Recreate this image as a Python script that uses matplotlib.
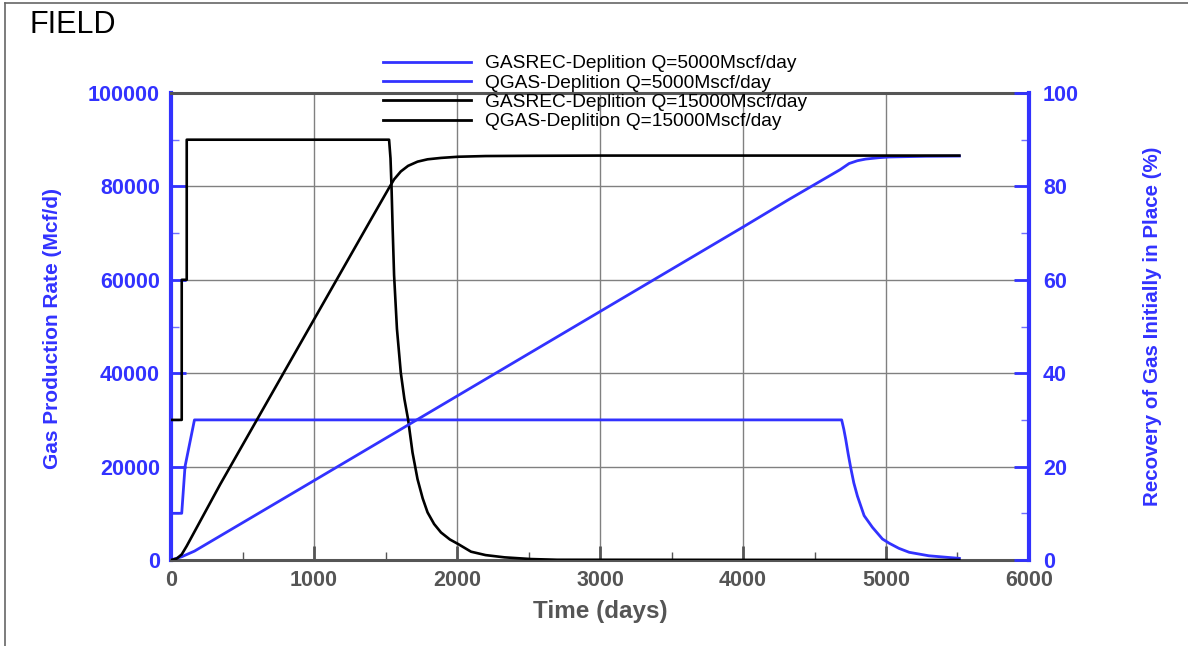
import matplotlib
matplotlib.use('Agg')
import matplotlib.pyplot as plt
from matplotlib.lines import Line2D
from matplotlib.ticker import MultipleLocator

BLUE = '#3232ff'
GRAY = '#555555'

# QGAS, Q=5000 Mscf/day case (Mcf/d)
qgas_5000_days = [0, 75, 98, 164, 4690, 4705, 4718, 4735, 4753, 4775, 4800, 4847, 4905, 4975, 5022, 5090, 5162, 5300, 5513]
qgas_5000_rate = [10000, 10000, 20000, 30000, 30000, 28000, 25900, 22800, 19800, 16500, 13700, 9500, 7000, 4500, 3600, 2500, 1650, 900, 350]

# GASREC, Q=5000 Mscf/day case (%)
gasrec_5000_days = [0, 75, 164, 1000, 2000, 3000, 4000, 4321, 4680, 4742, 4800, 4858, 4950, 5022, 5277, 5513]
gasrec_5000_pct = [0, 0.7, 1.9, 17.0, 35.1, 53.2, 71.3, 77.2, 83.6, 84.9, 85.5, 85.85, 86.15, 86.3, 86.45, 86.5]

# QGAS, Q=15000 Mscf/day case (Mcf/d)
qgas_15000_days = [0, 75, 75, 110, 110, 1525, 1535, 1542, 1550, 1560, 1580, 1607, 1632, 1658, 1689, 1724, 1760, 1794, 1840, 1888, 1950, 2009, 2098, 2200, 2332, 2519, 2700, 5513]
qgas_15000_rate = [30000, 30000, 60000, 60000, 90000, 90000, 86000, 80000, 71000, 61000, 49500, 40100, 34500, 30100, 23000, 17300, 13200, 10200, 7700, 5900, 4400, 3400, 1780, 1050, 570, 200, 50, 0]

# GASREC, Q=15000 Mscf/day case (%)
gasrec_15000_days = [0, 40, 75, 110, 344, 1000, 1396, 1525, 1560, 1607, 1658, 1724, 1794, 1888, 2009, 2200, 2500, 3000, 5513]
gasrec_15000_pct = [0, 0.3, 1.2, 3.0, 16.2, 51.5, 72.8, 79.7, 81.5, 83.2, 84.4, 85.3, 85.8, 86.1, 86.35, 86.5, 86.55, 86.6, 86.6]

legend_labels = ['GASREC-Deplition Q=5000Mscf/day', 'QGAS-Deplition Q=5000Mscf/day',
                 'GASREC-Deplition Q=15000Mscf/day', 'QGAS-Deplition Q=15000Mscf/day']

plt.rcParams['font.family'] = ['Liberation Sans', 'DejaVu Sans']

fig = plt.figure(figsize=(11.88, 6.46), dpi=100)
ax = fig.add_axes([171 / 1188, 1 - 560 / 646, (1029 - 171) / 1188, (560 - 93) / 646])
ax2 = ax.twinx()

ax.plot(qgas_5000_days, qgas_5000_rate, color=BLUE, lw=2.0, zorder=3)
ax.plot(qgas_15000_days, qgas_15000_rate, color='black', lw=1.9, zorder=3)
ax2.plot(gasrec_5000_days, gasrec_5000_pct, color=BLUE, lw=2.0, zorder=3)
ax2.plot(gasrec_15000_days, gasrec_15000_pct, color='black', lw=1.9, zorder=3)

ax.set_xlim(0, 6000)
ax.set_ylim(0, 100000)
ax2.set_ylim(0, 100)

ax.xaxis.set_major_locator(MultipleLocator(1000))
ax.xaxis.set_minor_locator(MultipleLocator(500))
ax.yaxis.set_major_locator(MultipleLocator(20000))
ax.yaxis.set_minor_locator(MultipleLocator(10000))
ax2.yaxis.set_major_locator(MultipleLocator(20))
ax2.yaxis.set_minor_locator(MultipleLocator(10))

ax.grid(True, which='major', color='#808080', lw=1.0)
ax.set_axisbelow(True)

for side in ['top', 'bottom']:
    ax.spines[side].set_color(GRAY)
    ax.spines[side].set_linewidth(2.2)
    ax2.spines[side].set_visible(False)
ax.spines['left'].set_color(BLUE)
ax.spines['left'].set_linewidth(3)
ax.spines['right'].set_visible(False)
ax2.spines['left'].set_visible(False)
ax2.spines['right'].set_color(BLUE)
ax2.spines['right'].set_linewidth(3)

ax.tick_params(axis='x', which='major', direction='in', length=10, width=2, color=GRAY,
               labelcolor=GRAY, pad=7, labelsize=15.5)
ax.tick_params(axis='x', which='minor', direction='in', length=6, width=1, color=GRAY)
ax.tick_params(axis='y', which='major', direction='in', length=11, width=2, color=BLUE,
               labelcolor=BLUE, pad=8, labelsize=15.5)
ax.tick_params(axis='y', which='minor', direction='in', length=6, width=1, color='#7070ff')
ax2.tick_params(axis='y', which='major', direction='in', length=11, width=2, color=BLUE,
                labelcolor=BLUE, pad=10, labelsize=15.5)
ax2.tick_params(axis='y', which='minor', direction='in', length=6, width=1, color='#7070ff')
for lab in ax.get_xticklabels() + ax.get_yticklabels() + ax2.get_yticklabels():
    lab.set_fontweight('bold')

ax.set_xlabel('Time (days)', fontsize=17.5, fontweight='bold', color=GRAY)
ax.xaxis.set_label_coords(0.5, -0.086)
ax.set_ylabel('Gas Production Rate (Mcf/d)', fontsize=15, fontweight='bold', color=BLUE)
ax.yaxis.set_label_coords(-0.127, 0.495)
ax2.set_ylabel('Recovery of Gas Initially in Place (%)', fontsize=14.8, fontweight='bold', color=BLUE)
ax2.yaxis.set_label_coords(1.133, 0.5)

handles = [Line2D([], [], color=BLUE, lw=2), Line2D([], [], color=BLUE, lw=2),
           Line2D([], [], color='black', lw=2), Line2D([], [], color='black', lw=2)]
fig.legend(handles, legend_labels, loc='upper left', bbox_to_anchor=(383 / 1188, 1 - 55 / 646),
           frameon=False, fontsize=13.8, handlelength=4.6, handletextpad=0.72,
           labelspacing=0.1, borderpad=0, borderaxespad=0)

fig.text(30 / 1188, 1 - 25 / 646, 'FIELD', fontsize=22, va='center', ha='left')

# frame around the figure (only top and left edges visible)
fig.add_artist(Line2D([5 / 1188, 1], [1 - 3 / 646, 1 - 3 / 646], color='#666666', lw=1.2,
                      transform=fig.transFigure))
fig.add_artist(Line2D([5 / 1188, 5 / 1188], [0, 1 - 3 / 646], color='#666666', lw=1.2,
                      transform=fig.transFigure))

fig.savefig('out.png', dpi=100)
